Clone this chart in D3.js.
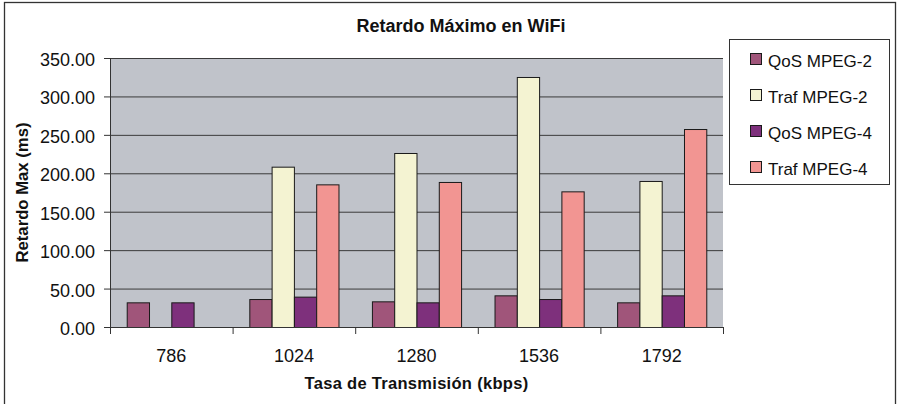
<!DOCTYPE html>
<html>
<head>
<meta charset="utf-8" />
<title>Retardo Máximo en WiFi</title>
<style>
  body{ margin:0; background:#fff; }
  text{ font-family: "Liberation Sans", Arial, Helvetica, sans-serif; fill:#111; }
</style>
</head>
<body>
<script src="https://d3js.org/d3.v7.min.js"></script>
<script>

// data
let rates = ['786','1024','1280','1536','1792']
let seriesNames = ['QoS MPEG-2','Traf MPEG-2','QoS MPEG-4','Traf MPEG-4']
let qosMpeg2  = [32.1, 36.4, 33.4, 41.2, 32.1]
let trafMpeg2 = [null, 208.6, 226.4, 325.3, 190.0]
let qosMpeg4  = [32.1, 39.5, 32.1, 36.4, 41.2]
let trafMpeg4 = [null, 185.6, 188.7, 176.5, 257.6]
let yTicks = [0,50,100,150,200,250,300,350]
let colors = ['#a0557a','#f4f3d2','#7e307c','#f29592']

let values = [qosMpeg2, trafMpeg2, qosMpeg4, trafMpeg4]

let width = 897, height = 404,
  m = {left:110, top:58, right:174, bottom:77},
  pw = width - m.left - m.right, ph = height - m.top - m.bottom

let svg = d3.select('body').append('svg').attr('width',width).attr('height',height)

// outer frame
svg.append('rect').attr('x',4.5).attr('y',2.5).attr('width',891).attr('height',410)
  .style('fill','none').style('stroke','#333').style('stroke-width',1.3)

let x = d3.scaleBand().domain(rates).range([0,pw]).paddingInner(0).paddingOuter(0),
  // gap width 150% -> 4 bars + 1.5 bar gap per category
  xs = d3.scaleBand().domain(seriesNames).range([x.bandwidth()*0.75/5.5, x.bandwidth()*4.75/5.5]),
  y = d3.scaleLinear().domain([0,350]).range([ph,0])

let g = svg.append('g').attr('transform','translate('+m.left+','+m.top+')')

g.append('rect').attr('width',pw).attr('height',ph).style('fill','#c0c3ca')

// gridlines
g.append('g').selectAll('line').data(yTicks.filter(d => d > 0)).enter().append('line')
  .attr('x1',0).attr('x2',pw).attr('y1',d => y(d)+0.5).attr('y2',d => y(d)+0.5)
  .style('stroke','#3a3a3a').style('stroke-width',1)

// bars
let groups = g.selectAll('g.cat').data(rates).enter().append('g').attr('class','cat')
  .attr('transform',d => 'translate('+x(d)+',0)')

groups.selectAll('rect').data((d,i) => seriesNames.map((s,k) => ({s:s, k:k, v:values[k][i]})).filter(d => d.v != null))
  .enter().append('rect')
  .attr('x',d => xs(d.s)+0.5)
  .attr('width',xs.bandwidth())
  .attr('y',d => y(d.v)+0.5)
  .attr('height',d => y(0)-y(d.v))
  .style('fill',d => colors[d.k])
  .style('stroke','#1a1a1a').style('stroke-width',1)

// y axis
let ya = g.append('g').call(d3.axisLeft(y).tickValues(yTicks).tickFormat(d3.format('.2f')).tickSize(6).tickPadding(9))
ya.select('.domain').attr('d','M0.5,0V'+ph).style('stroke','#333')
ya.selectAll('.tick line').style('stroke','#333')
ya.selectAll('.tick text').style('font-size','18px').attr('dy','0.42em')
  .style('font-family','"Liberation Sans", Arial, sans-serif').style('fill','#111')

// x axis
let xa = g.append('g').attr('transform','translate(0,'+ph+')')
  .call(d3.axisBottom(x).tickSize(0).tickPadding(22))
xa.select('.domain').attr('d','M0,0.5H'+pw).style('stroke','#333')
xa.selectAll('.tick text').style('font-size','18px')
  .style('font-family','"Liberation Sans", Arial, sans-serif').style('fill','#111')
xa.append('g').selectAll('line').data(rates.concat(['end'])).enter().append('line')
  .attr('x1',(d,i) => i*x.step()+0.5).attr('x2',(d,i) => i*x.step()+0.5)
  .attr('y1',0).attr('y2',7).style('stroke','#333')

// titles
svg.append('text').attr('x',461).attr('y',32).attr('text-anchor','middle')
  .style('font-size','18px').style('font-weight','bold').text('Retardo Máximo en WiFi')

svg.append('text').attr('x',m.left+pw/2).attr('y',389).attr('text-anchor','middle')
  .style('font-size','16.5px').style('font-weight','bold').style('letter-spacing','0.3px')
  .text('Tasa de Transmisión (kbps)')

svg.append('text').attr('transform','translate(28,'+(m.top+ph/2)+') rotate(-90)').attr('text-anchor','middle')
  .style('font-size','16.7px').style('font-weight','bold').text('Retardo Max (ms)')

// legend
let lg = svg.append('g').attr('transform','translate(729,39)')
lg.append('rect').attr('x',0.5).attr('y',0.5).attr('width',160).attr('height',145)
  .style('fill','#fff').style('stroke','#333').style('stroke-width',1)

let items = lg.selectAll('g.item').data(seriesNames).enter().append('g').attr('class','item')
  .attr('transform',(d,i) => 'translate(0,'+(i*36)+')')
items.append('rect').attr('x',21.5).attr('y',14.5).attr('width',11).attr('height',11)
  .style('fill',(d,i) => colors[i]).style('stroke','#1a1a1a').style('stroke-width',1)
items.append('text').attr('x',39).attr('y',28).style('font-size','17px').text(d => d)

</script>
</body>
</html>
